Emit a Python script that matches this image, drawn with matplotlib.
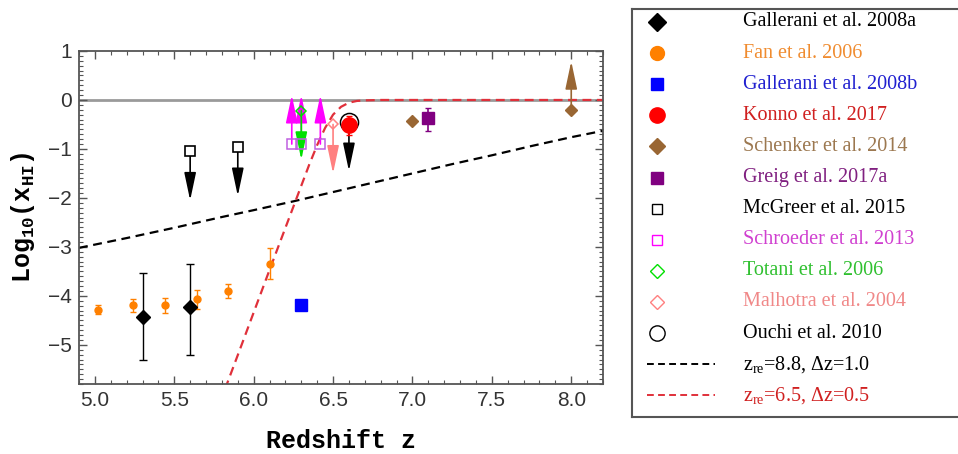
import matplotlib
matplotlib.use("Agg")
import matplotlib.pyplot as plt
from matplotlib.ticker import MultipleLocator, FormatStrFormatter

plt.rcParams['mathtext.fontset'] = 'custom'
plt.rcParams['mathtext.rm'] = 'Liberation Serif'
plt.rcParams['mathtext.tt'] = 'Liberation Mono'
plt.rcParams['mathtext.bf'] = 'Liberation Mono:bold'

# tanh reionization histories, log10 x_HI against z
model_a_z = [4.9, 5.2, 5.5, 5.8, 6.0, 6.25, 6.5, 6.75, 7.0, 7.25, 7.5, 7.75, 8.0, 8.2]
model_a_y = [-3.02, -2.82, -2.61, -2.39, -2.25, -2.07, -1.88, -1.69, -1.50, -1.31, -1.13, -0.94, -0.76, -0.63]
model_b_z = [5.82, 5.9, 6.0, 6.1, 6.2, 6.3, 6.35, 6.4, 6.45, 6.5, 6.55, 6.6, 6.65, 6.7, 6.8, 8.2]
model_b_y = [-5.9, -5.21, -4.34, -3.47, -2.61, -1.75, -1.32, -0.92, -0.57, -0.30, -0.14, -0.055, -0.02, -0.008, 0.0, 0.0]

# Gallerani et al. 2008a
gal_a_z = [5.3, 5.6]
gal_a_y = [-4.43, -4.23]
gal_a_lo = [0.88, 0.97]
gal_a_hi = [0.90, 0.88]

# Fan et al. 2006
fan_z = [5.02, 5.24, 5.44, 5.64, 5.84, 6.10]
fan_y = [-4.28, -4.19, -4.19, -4.07, -3.90, -3.34]
fan_err = [0.10, 0.13, 0.15, 0.19, 0.14, 0.32]

# Gallerani et al. 2008b
gal_b_z = [6.3]
gal_b_y = [-4.18]

# Konno et al. 2017
konno_z = [6.6]
konno_y = [-0.52]
konno_err = [0.2]

# Schenker et al. 2014 (last point is a lower limit)
schenker_z = [7.0, 8.0]
schenker_y = [-0.42, -0.21]

# Greig et al. 2017a
greig_z = [7.1]
greig_y = [-0.36]
greig_lo = [0.27]
greig_hi = [0.20]

# upper / lower limits
mcgreer_z = [5.6, 5.9]
mcgreer_y = [-1.05, -0.96]
schroeder_z = [6.24, 6.30, 6.42]
schroeder_y = [-0.9, -0.9, -0.9]
totani_z = [6.3]
totani_y = [-0.22]
malhotra_z = [6.5]
malhotra_y = [-0.5]
ouchi_z = [6.6]
ouchi_y = [-0.45]

legend_labels = [
    'Gallerani et al. 2008a', 'Fan et al. 2006', 'Gallerani et al. 2008b',
    'Konno et al. 2017', 'Schenker et al. 2014', 'Greig et al. 2017a',
    'McGreer et al. 2015', 'Schroeder et al. 2013', 'Totani et al. 2006',
    'Malhotra et al. 2004', 'Ouchi et al. 2010',
    r'z$_{\mathrm{re}}$=8.8, $\Delta$z=1.0', r'z$_{\mathrm{re}}$=6.5, $\Delta$z=0.5',
]

ORANGE = '#FF8000'
BLUE = '#0000FF'
RED = '#FF0000'
BROWN = '#996633'
PURPLE = '#800080'
MAGENTA = '#FF00FF'
GREEN = '#00E000'
PINK = '#FF8080'
DRED = '#E0303A'
FRAME = '#555555'

ARROW_LEN = 1.0
SERIF = 'Liberation Serif'
MONO = 'Liberation Mono'


def limit_arrow(ax, z, y, sign, color):
    ax.annotate('', xy=(z, y + sign * ARROW_LEN), xytext=(z, y),
                arrowprops=dict(arrowstyle='-|>,head_length=17,head_width=3.6',
                                mutation_scale=1, color=color, lw=1.2,
                                shrinkA=0, shrinkB=0), zorder=4)


fig = plt.figure(figsize=(9.58, 4.54), dpi=100)
ax = fig.add_axes([79 / 958, 1 - 384 / 454, 524 / 958, 333 / 454])

ax.axhline(0, color='#9a9a9a', lw=2, zorder=1)
ax.plot(model_a_z, model_a_y, ls=(0, (4, 2.5)), color='black', lw=1.6, zorder=2)
ax.plot(model_b_z, model_b_y, ls=(0, (4, 2.5)), color=DRED, lw=1.6, zorder=2)

# limits first so the filled markers sit on top
for z, y in zip(mcgreer_z, mcgreer_y):
    limit_arrow(ax, z, y, -1, 'black')
ax.plot(mcgreer_z, mcgreer_y, 's', ms=7, mfc='white', mec='black', mew=1.2, zorder=5)

for z, y in zip(schroeder_z, schroeder_y):
    limit_arrow(ax, z, y, 1, MAGENTA)
ax.plot(schroeder_z, schroeder_y, 's', ms=7, mfc='none', mec='#c060e0', mew=1.1, zorder=5)

for z, y in zip(totani_z, totani_y):
    limit_arrow(ax, z, y, -1, GREEN)
ax.plot(totani_z, totani_y, 'D', ms=5, mfc='none', mec=GREEN, mew=1.1, zorder=5)

for z, y in zip(malhotra_z, malhotra_y):
    limit_arrow(ax, z, y, -1, PINK)
ax.plot(malhotra_z, malhotra_y, 'D', ms=5, mfc='none', mec=PINK, mew=1.1, zorder=5)

for z, y in zip(ouchi_z, ouchi_y):
    limit_arrow(ax, z, y, -1, 'black')
ax.plot(ouchi_z, ouchi_y, 'o', ms=13, mfc='none', mec='black', mew=1.1, zorder=5)

limit_arrow(ax, schenker_z[-1], schenker_y[-1], 1, BROWN)

ax.errorbar(fan_z, fan_y, yerr=fan_err, fmt='o', ms=5, color=ORANGE,
            elinewidth=1, capsize=2.5, zorder=5)
ax.errorbar(gal_a_z, gal_a_y, yerr=[gal_a_lo, gal_a_hi], fmt='D', ms=7,
            color='black', elinewidth=1, capsize=3, zorder=6)
ax.plot(gal_b_z, gal_b_y, 's', ms=8, color=BLUE, zorder=6)
ax.errorbar(konno_z, konno_y, yerr=konno_err, fmt='o', ms=11, color=RED,
            elinewidth=1.2, capsize=2.5, zorder=6)
ax.plot(schenker_z, schenker_y, 'D', ms=6, color=BROWN, zorder=6)
ax.errorbar(greig_z, greig_y, yerr=[greig_lo, greig_hi], fmt='s', ms=8,
            color=PURPLE, elinewidth=1.2, capsize=2.5, zorder=6)

ax.set_xlim(4.9, 8.2)
ax.set_ylim(-5.8, 1.0)
ax.xaxis.set_major_locator(MultipleLocator(0.5))
ax.xaxis.set_minor_locator(MultipleLocator(0.1))
ax.yaxis.set_major_locator(MultipleLocator(1))
ax.yaxis.set_minor_locator(MultipleLocator(0.1))
ax.xaxis.set_major_formatter(FormatStrFormatter('%.1f'))
ax.tick_params(which='both', direction='in', top=True, right=True, color=FRAME,
               labelsize=15, labelcolor='#333333', pad=5)
ax.tick_params(which='major', length=6, width=1)
ax.tick_params(which='minor', length=3, width=0.8)
for lab in ax.get_xticklabels() + ax.get_yticklabels():
    lab.set_family('Liberation Sans')
for sp in ax.spines.values():
    sp.set_color(FRAME)
    sp.set_linewidth(1.3)

ax.set_xlabel('Redshift z', family=MONO, fontsize=18, fontweight='bold', labelpad=14)
ax.set_ylabel(r'Log$_{\mathbf{10}}$(x$_{\mathbf{HI}}$)', family=MONO, fontsize=18,
              fontweight='bold', labelpad=8)

# legend panel on the right
lax = fig.add_axes([632 / 958, 1 - 417 / 454, 340 / 958, 408 / 454])
lax.set_xlim(0, 340)
lax.set_ylim(408, 0)
lax.set_xticks([])
lax.set_yticks([])
for sp in lax.spines.values():
    sp.set_color(FRAME)
    sp.set_linewidth(1.5)

handles = [
    dict(marker='D', ms=9, color='black'),
    dict(marker='o', ms=10, color=ORANGE),
    dict(marker='s', ms=8, color=BLUE),
    dict(marker='o', ms=11, color=RED),
    dict(marker='D', ms=8, color=BROWN),
    dict(marker='s', ms=8, color=PURPLE),
    dict(marker='s', ms=7, mfc='none', mec='black', mew=1),
    dict(marker='s', ms=7, mfc='none', mec=MAGENTA, mew=1),
    dict(marker='D', ms=7, mfc='none', mec=GREEN, mew=1),
    dict(marker='D', ms=7, mfc='none', mec=PINK, mew=1),
    dict(marker='o', ms=11, mfc='none', mec='black', mew=1),
    dict(ls=(0, (3.5, 2.2)), color='black', lw=1.4),
    dict(ls=(0, (3.5, 2.2)), color=DRED, lw=1.4),
]
text_colors = ['black', '#F08C30', '#2020D0', '#D02020', '#9C7850', '#802080',
               'black', '#D040D0', '#30C030', '#F08888', 'black', 'black', '#D02020']

for i, (label, h, tc) in enumerate(zip(legend_labels, handles, text_colors)):
    y = 13 + 31.1 * i
    if 'marker' in h:
        lax.plot([25], [y], ls='none', **h)
    else:
        lax.plot([15, 83], [y, y], **h)
    lax.text(111, y, label, family=SERIF, fontsize=14.5, color=tc, va='center')

fig.savefig('out.png', dpi=100)
